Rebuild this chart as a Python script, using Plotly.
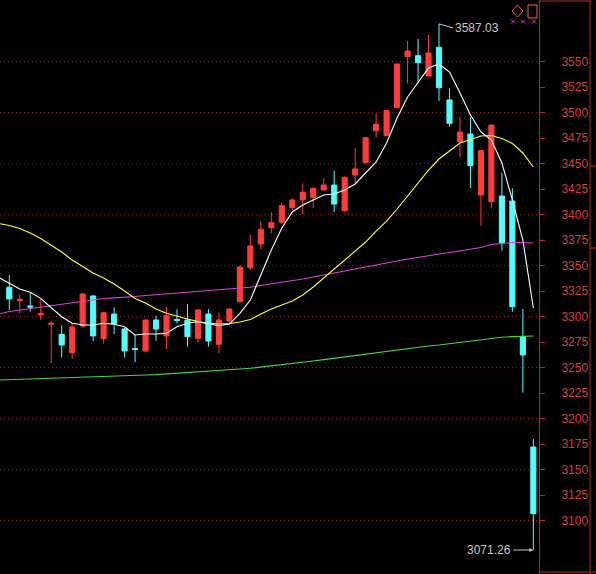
import plotly.graph_objects as go

# ---- data (index 0..50 = candles left to right) ----
OPEN = [3328.8, 3315.7, 3310.5, 3301.7, 3292.5, 3282.7, 3264.7, 3290.9, 3320.3, 3278.4,
        3302.6, 3287.9, 3268.8, 3266.4, 3296.8, 3281.1, 3297.3, 3296.8, 3278.8, 3302.6,
        3272.9, 3295.8, 3314.7, 3348.0, 3371.3, 3387.3, 3392.5, 3406.9, 3414.4, 3416.7,
        3424.2, 3429.1, 3403.9, 3438.9, 3451.0, 3482.4, 3477.5, 3504.9, 3554.9, 3555.9,
        3536.0, 3564.1, 3512.5, 3471.6, 3479.1, 3419.3, 3412.7, 3418.3, 3413.4, 3280.4,
        3172.3]
HIGH = [3340.9, 3322.0, 3323.5, 3317.1, 3295.8, 3291.6, 3294.1, 3323.2, 3321.3, 3304.9,
        3309.2, 3288.9, 3282.1, 3297.5, 3301.0, 3309.8, 3307.3, 3312.5, 3307.5, 3307.5,
        3304.3, 3308.2, 3350.0, 3380.1, 3393.8, 3402.4, 3411.8, 3416.1, 3430.8, 3426.5,
        3435.7, 3443.1, 3437.5, 3465.7, 3476.0, 3498.7, 3502.5, 3548.2, 3570.3, 3572.3,
        3576.2, 3587.03, 3523.9, 3495.5, 3495.5, 3463.2, 3488.4, 3441.2, 3425.9, 3307.5,
        3180.1]
LOW = [3306.6, 3303.3, 3304.9, 3296.8, 3254.3, 3260.2, 3258.5, 3289.2, 3276.2, 3273.5,
       3283.0, 3259.8, 3255.3, 3265.5, 3276.5, 3268.3, 3293.5, 3270.6, 3274.9, 3270.6,
       3264.1, 3291.9, 3314.0, 3345.8, 3366.4, 3381.8, 3390.6, 3404.6, 3400.4, 3406.3,
       3423.5, 3402.9, 3403.0, 3430.8, 3450.5, 3475.9, 3477.0, 3504.5, 3528.8, 3528.8,
       3535.5, 3511.5, 3486.3, 3456.3, 3425.9, 3389.2, 3406.3, 3364.7, 3304.9, 3225.5,
       3071.26]
CLOSE = [3317.4, 3317.1, 3309.5, 3303.3, 3293.5, 3272.3, 3289.9, 3322.3, 3281.1, 3303.9,
         3293.1, 3266.4, 3267.8, 3296.8, 3287.9, 3301.0, 3296.3, 3280.4, 3306.6, 3276.2,
         3296.8, 3307.5, 3348.7, 3369.3, 3385.7, 3392.2, 3408.8, 3414.4, 3422.0, 3425.9,
         3429.1, 3410.5, 3436.7, 3444.8, 3475.5, 3488.6, 3502.0, 3547.7, 3560.5, 3549.0,
         3558.5, 3524.5, 3489.6, 3481.1, 3448.0, 3462.7, 3487.9, 3372.5, 3309.8, 3262.5,
         3106.9]

# moving-average lines, index -1 .. 50 (first point sits just off the left edge)
MA_WHITE = [3338.5, 3332.7, 3327.2, 3323.9, 3318.0, 3308.8, 3300.0, 3293.5, 3291.9, 3291.9,
            3293.5, 3292.6, 3290.2, 3282.1, 3283.0, 3283.0, 3283.7, 3290.2, 3293.5, 3295.1,
            3293.5, 3291.2, 3292.8, 3303.3, 3316.4, 3340.9, 3365.4, 3387.0, 3402.7, 3409.5,
            3414.4, 3419.3, 3420.3, 3424.2, 3430.1, 3440.9, 3451.7, 3470.3, 3494.8, 3515.4,
            3530.1, 3543.8, 3547.8, 3539.9, 3519.3, 3497.8, 3481.1, 3473.2, 3450.7, 3414.4,
            3375.2, 3308.5]
MA_YELLOW = [3391.4, 3389.4, 3386.5, 3382.1, 3376.7, 3369.8, 3363.4, 3355.6, 3349.2, 3342.9,
             3337.9, 3332.1, 3325.2, 3317.9, 3313.4, 3307.6, 3303.3, 3300.2, 3297.8, 3295.3,
             3293.5, 3292.8, 3293.3, 3294.8, 3297.3, 3302.6, 3307.6, 3311.5, 3315.4, 3321.3,
             3329.1, 3337.9, 3346.8, 3356.1, 3364.4, 3373.2, 3384.0, 3393.8, 3405.6, 3418.3,
             3432.1, 3443.8, 3454.6, 3462.5, 3470.3, 3473.7, 3477.2, 3477.7, 3474.7, 3469.8,
             3460.5, 3446.8]
MA_MAGENTA = [3302.6, 3305.1, 3306.6, 3308.0, 3309.5, 3311.5, 3312.6, 3313.9, 3315.4, 3316.7,
              3317.9, 3318.5, 3319.0, 3319.8, 3320.8, 3321.6, 3322.3, 3323.2, 3324.2, 3325.0,
              3325.7, 3326.6, 3327.4, 3328.1, 3328.9, 3330.6, 3332.1, 3333.5, 3335.0, 3337.0,
              3338.9, 3340.9, 3342.9, 3344.8, 3346.8, 3348.7, 3350.7, 3352.7, 3354.6, 3356.6,
              3358.1, 3360.0, 3361.5, 3363.0, 3364.4, 3365.9, 3367.8, 3370.8, 3372.1, 3372.7,
              3372.7, 3372.3]
MA_GREEN = [3237.9, 3238.2, 3238.6, 3238.9, 3239.3, 3239.6, 3239.9, 3240.3, 3240.7, 3241.0,
            3241.3, 3241.7, 3242.1, 3242.4, 3242.8, 3243.2, 3243.8, 3244.5, 3245.2, 3245.9,
            3246.6, 3247.3, 3248.0, 3248.7, 3249.4, 3250.5, 3251.7, 3252.9, 3254.1, 3255.4,
            3256.6, 3257.9, 3259.3, 3260.7, 3262.1, 3263.4, 3264.8, 3266.2, 3267.5, 3268.7,
            3270.0, 3271.3, 3272.3, 3273.6, 3275.0, 3276.6, 3277.8, 3278.9, 3279.9, 3280.5,
            3280.9, 3281.1]

TICK_LEVELS = [3100, 3125, 3150, 3175, 3200, 3225, 3250, 3275, 3300, 3325,
               3350, 3375, 3400, 3425, 3450, 3475, 3500, 3525, 3550]
GRID_LEVELS = [3100, 3150, 3200, 3250, 3300, 3350, 3400, 3450, 3500, 3550]

HIGH_LABEL = "3587.03"
LOW_LABEL = "3071.26"

# ---- styling ----
RED = "#ff3c3c"
CYAN = "#54fcfc"
AXIS_RED = "#b42828"
LABEL_RED = "#d83c3c"
GRID_RED = "#a02828"
NOTE = "#c8c8c8"

idx = list(range(len(OPEN)))
ma_idx = list(range(-1, len(OPEN)))

fig = go.Figure()
fig.add_trace(go.Candlestick(
    x=idx, open=OPEN, high=HIGH, low=LOW, close=CLOSE,
    increasing=dict(line=dict(color=RED, width=1), fillcolor=RED),
    decreasing=dict(line=dict(color=CYAN, width=1), fillcolor=CYAN),
    whiskerwidth=0, hoverinfo="skip", showlegend=False,
))
for vals, col in [(MA_GREEN, "#46d846"), (MA_MAGENTA, "#e040e0"),
                  (MA_YELLOW, "#ffff3c"), (MA_WHITE, "#ffffff")]:
    fig.add_trace(go.Scatter(x=ma_idx, y=vals, mode="lines",
                             line=dict(color=col, width=1.1),
                             hoverinfo="skip", showlegend=False))

shapes = []
for g in GRID_LEVELS:
    shapes.append(dict(type="line", xref="paper", yref="y", x0=0, x1=1, y0=g, y1=g,
                       line=dict(color=GRID_RED, width=1, dash="1px,3px"), layer="below"))

W, H, PW = 596, 574, 539.0
def px(x):
    return x / PW
def py(y):
    return 1 - y / H

# right-hand frame pieces
shapes += [
    dict(type="line", xref="paper", yref="paper", x0=px(590), x1=px(590), y0=0, y1=1,
         line=dict(color=AXIS_RED, width=1)),
    dict(type="line", xref="paper", yref="paper", x0=1, x1=px(596), y0=py(572), y1=py(572),
         line=dict(color=AXIS_RED, width=1)),
    dict(type="line", xref="paper", yref="paper", x0=1, x1=px(590), y0=py(1), y1=py(1),
         line=dict(color=AXIS_RED, width=1)),
    dict(type="line", xref="paper", yref="paper", x0=px(590), x1=px(596), y0=py(166), y1=py(166),
         line=dict(color=AXIS_RED, width=1)),
    dict(type="line", xref="paper", yref="paper", x0=px(590), x1=px(596), y0=py(248), y1=py(248),
         line=dict(color=AXIS_RED, width=1)),
]
# top-right icons
shapes.append(dict(type="path", xref="paper", yref="paper",
                   path=f"M {px(512)} {py(11)} L {px(517.5)} {py(5)} L {px(523)} {py(11)} "
                        f"L {px(517.5)} {py(17)} Z",
                   line=dict(color="#ff5a5a", width=1)))
shapes.append(dict(type="rect", xref="paper", yref="paper",
                   x0=px(528), x1=px(537), y0=py(5), y1=py(18),
                   line=dict(color="#ff5a5a", width=1)))
for cx in (513, 523, 534):
    for d in (1, -1):
        shapes.append(dict(type="line", xref="paper", yref="paper",
                           x0=px(cx - 2), x1=px(cx + 2), y0=py(21.5 - 2 * d), y1=py(21.5 + 2 * d),
                           line=dict(color="#d040d0", width=1)))

hi_i = HIGH.index(max(HIGH))
lo_i = LOW.index(min(LOW))
annotations = [
    dict(x=hi_i, y=HIGH[hi_i], xref="x", yref="y", text=HIGH_LABEL, showarrow=True,
         arrowhead=0, arrowwidth=1, arrowcolor=NOTE, ax=14, ay=4, xanchor="left",
         yanchor="middle", font=dict(color=NOTE, size=12, family="Liberation Sans, Arial")),
    dict(x=lo_i, y=LOW[lo_i], xref="x", yref="y", text=LOW_LABEL, showarrow=True,
         arrowhead=2, arrowsize=0.8, arrowwidth=1, arrowcolor=NOTE, ax=-20, ay=0,
         xanchor="right", yanchor="middle",
         font=dict(color=NOTE, size=12, family="Liberation Sans, Arial")),
]

fig.update_layout(
    width=W, height=H, autosize=False,
    margin=dict(l=0, r=W - PW, t=0, b=0, pad=0),
    paper_bgcolor="black", plot_bgcolor="black",
    showlegend=False, shapes=shapes, annotations=annotations,
    xaxis=dict(visible=False, range=[-0.887, 50.54], rangeslider=dict(visible=False),
               fixedrange=True),
    yaxis=dict(side="right", range=[3047.75, 3610.49], tickmode="array",
               tickvals=TICK_LEVELS, ticktext=[str(v) for v in TICK_LEVELS],
               ticks="outside", ticklen=5, tickcolor=AXIS_RED, tickwidth=1,
               showline=True, linecolor=AXIS_RED, linewidth=1, mirror=False,
               showgrid=False, zeroline=False, ticklabelstandoff=14,
               tickfont=dict(color=LABEL_RED, size=12, family="Liberation Sans, Arial"),
               fixedrange=True),
)

fig.write_html("out.html", config={"displayModeBar": False},
               post_script="document.body.style.margin='0';document.body.style.background='black';")
